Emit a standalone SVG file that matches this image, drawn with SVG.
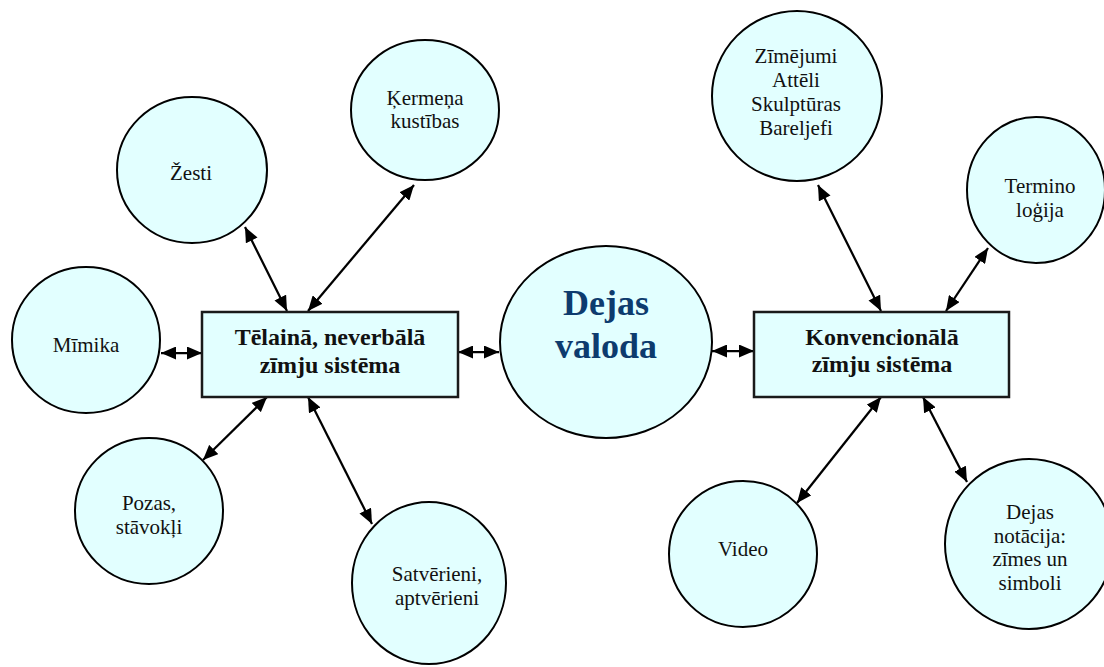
<svg xmlns="http://www.w3.org/2000/svg" width="1104" height="667" viewBox="0 0 1104 667">
  <style>
    .bubble { fill: #e2ffff; stroke: #000; stroke-width: 2; }
    .panel { fill: #e2ffff; stroke: #1a1a1a; stroke-width: 2.5; }
    text { font-family: 'Liberation Serif', serif; text-anchor: middle; }
    .lbl { font-size: 21px; fill: #111; }
    .panel-lbl { font-size: 24px; font-weight: bold; fill: #111; }
    .core-lbl { font-size: 36px; font-weight: bold; fill: #0d3b6e; }
    .link { stroke: #000; stroke-width: 2.25; fill: none; marker-start: url(#head); marker-end: url(#head); }
  </style>
  <defs>
    <marker id="head" markerUnits="userSpaceOnUse" markerWidth="15" markerHeight="13" refX="15" refY="6.5" orient="auto-start-reverse">
      <path d="M0,0 L15,6.5 L0,13 z" fill="#000"/>
    </marker>
  </defs>
  <rect width="1104" height="667" fill="#fff"/>

  <!-- connectors -->
  <g id="connectors">
    <line class="link" x1="161" y1="353" x2="202" y2="353"/>
    <line class="link" x1="458" y1="352" x2="499" y2="352"/>
    <line class="link" x1="712" y1="351" x2="754" y2="351"/>
    <line class="link" x1="245" y1="227" x2="287" y2="311"/>
    <line class="link" x1="414" y1="185" x2="308" y2="311"/>
    <line class="link" x1="267" y1="397" x2="203" y2="460"/>
    <line class="link" x1="308" y1="397" x2="372" y2="524"/>
    <line class="link" x1="818" y1="185" x2="881" y2="311"/>
    <line class="link" x1="988" y1="248" x2="946" y2="311"/>
    <line class="link" x1="881" y1="397" x2="797" y2="503"/>
    <line class="link" x1="923" y1="397" x2="967" y2="482"/>
  </g>

  <g font-family="Liberation Serif, serif">
    <!-- left branch -->
    <g id="zesti">
      <ellipse class="bubble" cx="192" cy="170" rx="75" ry="73"/>
      <text class="lbl" x="191" y="180">Žesti</text>
    </g>
    <g id="kermena-kustibas">
      <ellipse class="bubble" cx="425" cy="110" rx="74" ry="70"/>
      <text class="lbl" x="425" y="105">Ķermeņa</text>
      <text class="lbl" x="425" y="128">kustības</text>
    </g>
    <g id="mimika">
      <ellipse class="bubble" cx="86" cy="340" rx="74" ry="73"/>
      <text class="lbl" x="86" y="352">Mīmika</text>
    </g>
    <g id="pozas">
      <ellipse class="bubble" cx="149" cy="511" rx="74" ry="73"/>
      <text class="lbl" x="149" y="510">Pozas,</text>
      <text class="lbl" x="149" y="534">stāvokļi</text>
    </g>
    <g id="satverieni">
      <ellipse class="bubble" cx="429" cy="583" rx="77" ry="81"/>
      <text class="lbl" x="437" y="581">Satvērieni,</text>
      <text class="lbl" x="437" y="605">aptvērieni</text>
    </g>
    <g id="telaina-sistema">
      <rect class="panel" x="202" y="312" width="256" height="85"/>
      <text class="panel-lbl" x="330" y="345">Tēlainā, neverbālā</text>
      <text class="panel-lbl" x="330" y="373">zīmju sistēma</text>
    </g>

    <!-- centre -->
    <g id="dejas-valoda">
      <ellipse class="bubble" cx="606" cy="342" rx="106" ry="96"/>
      <text class="core-lbl" x="606" y="315">Dejas</text>
      <text class="core-lbl" x="606" y="358">valoda</text>
    </g>

    <!-- right branch -->
    <g id="konvencionala-sistema">
      <rect class="panel" x="754" y="312" width="255" height="85"/>
      <text class="panel-lbl" x="882" y="345">Konvencionālā</text>
      <text class="panel-lbl" x="882" y="372">zīmju sistēma</text>
    </g>
    <g id="zimejumi">
      <ellipse class="bubble" cx="797" cy="96" rx="85" ry="85"/>
      <text class="lbl" x="796" y="63">Zīmējumi</text>
      <text class="lbl" x="796" y="87">Attēli</text>
      <text class="lbl" x="796" y="111">Skulptūras</text>
      <text class="lbl" x="796" y="135">Bareljefi</text>
    </g>
    <g id="terminologija">
      <ellipse class="bubble" cx="1036" cy="190" rx="69" ry="73"/>
      <text class="lbl" x="1040" y="193">Termino</text>
      <text class="lbl" x="1040" y="217">loģija</text>
    </g>
    <g id="video">
      <ellipse class="bubble" cx="743" cy="554" rx="74" ry="73"/>
      <text class="lbl" x="743" y="556">Video</text>
    </g>
    <g id="dejas-notacija">
      <ellipse class="bubble" cx="1029" cy="544" rx="84" ry="85"/>
      <text class="lbl" x="1030" y="519">Dejas</text>
      <text class="lbl" x="1030" y="543">notācija:</text>
      <text class="lbl" x="1030" y="566">zīmes un</text>
      <text class="lbl" x="1030" y="590">simboli</text>
    </g>
  </g>
</svg>
